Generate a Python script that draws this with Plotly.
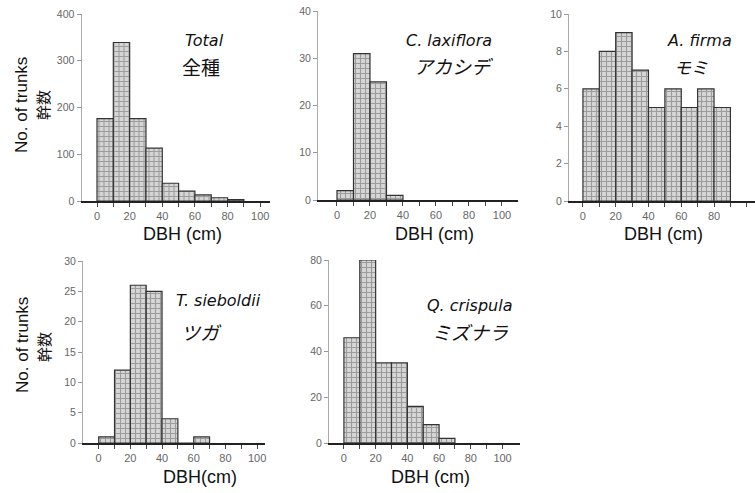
import plotly.graph_objects as go

W, H = 755, 493

# ---- data (counts per 10-cm DBH class) ----
bin_centers = [5, 15, 25, 35, 45, 55, 65, 75, 85]
total = [176, 339, 176, 113, 38, 21, 13, 7, 3]
c_laxiflora = [2, 31, 25, 1]
a_firma = [6, 8, 9, 7, 5, 6, 5, 6, 5]
t_sieboldii = [1, 12, 26, 25, 4, 0, 1]
q_crispula = [46, 80, 35, 35, 16, 8, 2]

x_tickvals = [0, 10, 20, 30, 40, 50, 60, 70, 80, 90, 100]
x_ticktext = ["0", "", "20", "", "40", "", "60", "", "80", "", "100"]

panels = [
    dict(y=total, xd=(81.5, 270), yd=(14, 201), xr=(-9.5, 106), ymax=400, dt=100),
    dict(y=c_laxiflora, xd=(318, 518), yd=(11, 200), xr=(-11.5, 109.7), ymax=40, dt=10),
    dict(y=a_firma, xd=(569, 755), yd=(14, 201), xr=(-8.5, 105), ymax=10, dt=2),
    dict(y=t_sieboldii, xd=(83, 265), yd=(261, 443), xr=(-9.9, 105), ymax=30, dt=5),
    dict(y=q_crispula, xd=(329, 520), yd=(260, 443), xr=(-9.4, 111), ymax=80, dt=20),
]

fig = go.Figure()
layout = {}
for i, p in enumerate(panels):
    n = i + 1
    xa = "x" if n == 1 else f"x{n}"
    ya = "y" if n == 1 else f"y{n}"
    fig.add_trace(go.Bar(
        x=bin_centers[:len(p["y"])], y=p["y"], width=10,
        xaxis=xa, yaxis=ya, showlegend=False, hoverinfo="skip",
        marker=dict(
            color="#cfcfcf",
            line=dict(color="#333333", width=1.2),
            pattern=dict(shape="+", fgcolor="#9c9c9c", bgcolor="#d6d6d6",
                         size=5, solidity=0.4, fillmode="replace"),
        ),
    ))
    xk = "xaxis" if n == 1 else f"xaxis{n}"
    yk = "yaxis" if n == 1 else f"yaxis{n}"
    layout[xk] = dict(
        domain=[p["xd"][0] / W, p["xd"][1] / W], anchor=ya,
        range=list(p["xr"]), tickvals=x_tickvals, ticktext=x_ticktext,
        showgrid=False, zeroline=False, showline=True, linecolor="#222222",
        linewidth=1.6, ticks="outside", ticklen=4, tickcolor="#444444",
        tickfont=dict(family="Liberation Sans", size=11, color="#666666"),
        fixedrange=True, automargin=False,
    )
    layout[yk] = dict(
        domain=[1 - p["yd"][1] / H, 1 - p["yd"][0] / H], anchor=xa,
        range=[0, p["ymax"]], dtick=p["dt"], tick0=0,
        showgrid=False, zeroline=False, showline=True, linecolor="#aaaaaa",
        linewidth=1, ticks="outside", ticklen=4, tickcolor="#999999",
        tickfont=dict(family="Liberation Sans", size=10.5, color="#666666"),
        fixedrange=True, automargin=False,
    )

fig.update_layout(**layout)

ann = []
def add(text, x, y, size, family="Liberation Sans", italic=False, angle=0, color="#111111"):
    ann.append(dict(
        text=text, x=x / W, y=1 - y / H, xref="paper", yref="paper",
        xanchor="center", yanchor="middle", showarrow=False, textangle=angle,
        font=dict(family=family, size=size, color=color,
                  style="italic" if italic else "normal"),
    ))

# x-axis titles
add("DBH (cm)", 182, 234, 18)
add("DBH (cm)", 435, 234, 18)
add("DBH (cm)", 663, 234, 18)
add("DBH(cm)", 200, 477, 18)
add("DBH (cm)", 430, 477, 18)

# y-axis titles
add("No. of trunks", 22, 105, 17, angle=-90)
add("幹数", 43, 105, 15, family="Noto Sans CJK JP", angle=-90)
add("No. of trunks", 22, 345, 17, angle=-90)
add("幹数", 43, 347, 15, family="Noto Sans CJK JP", angle=-90)

# species labels
add("Total", 204, 40, 16, family="DejaVu Sans", italic=True)
add("全種", 201, 67, 19, family="Noto Sans CJK JP")
add("C. laxiflora", 449, 41, 16, family="DejaVu Sans", italic=True)
add("アカシデ", 453, 65, 19, family="Noto Sans CJK JP", italic=True)
add("A. firma", 699, 41, 16, family="DejaVu Sans", italic=True)
add("モミ", 691, 67, 17, family="Noto Sans CJK JP", italic=True)
add("T. sieboldii", 218, 300, 16, family="DejaVu Sans", italic=True)
add("ツガ", 201, 331, 19, family="Noto Sans CJK JP", italic=True)
add("Q. crispula", 470, 305, 16, family="DejaVu Sans", italic=True)
add("ミズナラ", 470, 331, 19, family="Noto Sans CJK JP", italic=True)

fig.update_layout(
    width=W, height=H, margin=dict(l=0, r=0, t=0, b=0, autoexpand=False),
    paper_bgcolor="white", plot_bgcolor="white",
    bargap=0, annotations=ann, hovermode=False,
)

fig.write_html(
    "out.html",
    config={"displayModeBar": False, "staticPlot": True},
    post_script="document.body.style.margin='0';document.body.style.padding='0';"
                "document.body.style.overflow='hidden';",
)
